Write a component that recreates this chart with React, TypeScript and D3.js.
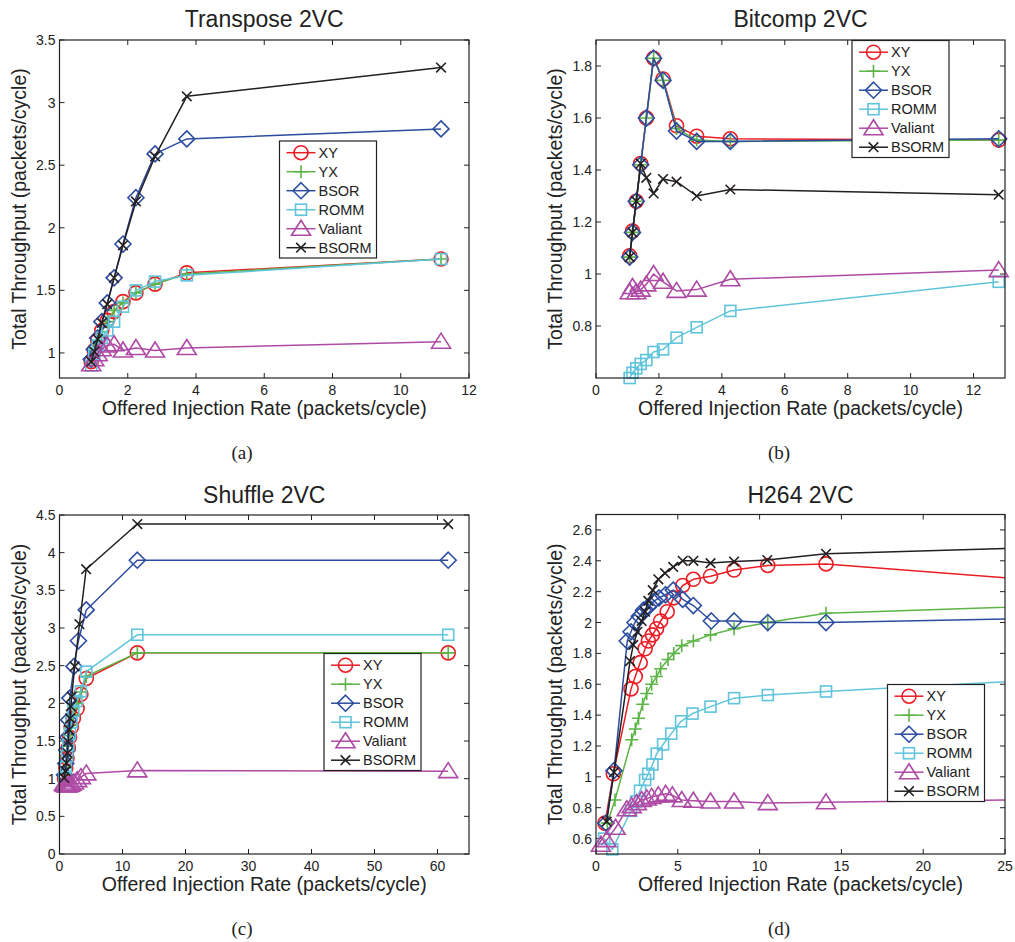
import React from 'react';
import * as d3 from 'd3';

const seriesNames = ['XY', 'YX', 'BSOR', 'ROMM', 'Valiant', 'BSORM'];
const seriesColors = ['#ec1c24', '#5db446', '#2c4d9f', '#5fc4dc', '#ae4aa5', '#231f20'];
const seriesMarkers = ['circle', 'plus', 'diamond', 'square', 'triangle', 'x'];

// (a) Transpose 2VC, one rate list shared by all routings
const transposeRate = [0.93, 1.02, 1.12, 1.24, 1.40, 1.60, 1.86, 2.24, 2.80, 3.73, 11.18];
const transposeXY = [0.93, 1.02, 1.10, 1.18, 1.26, 1.33, 1.41, 1.48, 1.55, 1.64, 1.75];
const transposeYX = [0.93, 1.02, 1.09, 1.17, 1.25, 1.34, 1.40, 1.48, 1.55, 1.63, 1.75];
const transposeBSOR = [0.95, 1.03, 1.12, 1.25, 1.40, 1.60, 1.87, 2.24, 2.59, 2.71, 2.79];
const transposeROMM = [0.90, 0.99, 1.06, 1.12, 1.18, 1.25, 1.37, 1.50, 1.57, 1.62, 1.75];
const transposeValiant = [0.91, 0.95, 0.99, 1.03, 1.06, 1.07, 1.02, 1.04, 1.02, 1.04, 1.09];
const transposeBSORM = [0.93, 1.01, 1.11, 1.24, 1.39, 1.60, 1.86, 2.21, 2.57, 3.05, 3.28];

// (b) Bitcomp 2VC
const bitcompRate = [1.07, 1.16, 1.28, 1.42, 1.60, 1.83, 2.13, 2.56, 3.20, 4.27, 12.8];
const bitcompXY = [1.07, 1.165, 1.28, 1.425, 1.60, 1.83, 1.75, 1.57, 1.53, 1.52, 1.515];
const bitcompYX = [1.065, 1.16, 1.28, 1.42, 1.60, 1.83, 1.745, 1.56, 1.515, 1.51, 1.515];
const bitcompBSOR = [1.065, 1.16, 1.28, 1.42, 1.60, 1.83, 1.745, 1.55, 1.51, 1.51, 1.52];
const bitcompROMM = [0.60, 0.62, 0.637, 0.654, 0.669, 0.70, 0.71, 0.755, 0.795, 0.858, 0.97];
const bitcompValiant = [0.93, 0.95, 0.93, 0.94, 0.96, 1.0, 0.97, 0.935, 0.94, 0.98, 1.015];
const bitcompBSORM = [1.065, 1.16, 1.28, 1.425, 1.37, 1.31, 1.365, 1.355, 1.30, 1.325, 1.305];

// (c) Shuffle 2VC, each routing has its own rates
const shuffleRateXY = [0.8, 1.0, 1.2, 1.4, 1.6, 1.85, 2.2, 2.8, 3.4, 4.25, 12.35, 61.7];
const shuffleXY = [1.0, 1.14, 1.27, 1.41, 1.55, 1.68, 1.8, 1.93, 2.12, 2.33, 2.67, 2.67];
const shuffleRateYX = [0.8, 1.0, 1.2, 1.4, 1.6, 1.85, 2.2, 2.8, 3.4, 4.25, 12.35, 61.7];
const shuffleYX = [1.0, 1.15, 1.29, 1.43, 1.57, 1.71, 1.85, 2.0, 2.15, 2.36, 2.67, 2.67];
const shuffleRateBSOR = [0.8, 1.0, 1.15, 1.3, 1.45, 1.64, 2.3, 3.0, 4.25, 12.35, 61.7];
const shuffleBSOR = [1.05, 1.2, 1.38, 1.55, 1.78, 2.07, 2.49, 2.83, 3.24, 3.90, 3.90];
const shuffleRateROMM = [0.8, 1.0, 1.2, 1.4, 1.65, 1.9, 2.2, 2.7, 3.4, 4.25, 12.35, 61.7];
const shuffleROMM = [1.02, 1.15, 1.3, 1.45, 1.6, 1.75, 1.9, 2.03, 2.16, 2.42, 2.91, 2.91];
const shuffleRateValiant = [0.7, 0.9, 1.1, 1.35, 1.6, 1.9, 2.3, 2.8, 3.4, 4.25, 12.35, 61.7];
const shuffleValiant = [0.93, 0.92, 0.91, 0.91, 0.92, 0.93, 0.95, 0.98, 1.02, 1.07, 1.11, 1.10];
const shuffleRateBSORM = [0.74, 0.95, 1.1, 1.27, 1.38, 1.54, 1.69, 1.8, 1.95, 2.4, 3.17, 4.23, 12.35, 61.7];
const shuffleBSORM = [1.01, 1.10, 1.21, 1.34, 1.49, 1.65, 1.80, 1.96, 2.09, 2.49, 3.05, 3.78, 4.38, 4.38];

// (d) H264 2VC (last point lies past the axis limit)
const h264RateXY = [0.55, 1.06, 2.14, 2.4, 2.7, 3.0, 3.2, 3.45, 3.7, 3.95, 4.35, 4.75, 5.3, 5.95, 7.0, 8.44, 10.5, 14.06, 28];
const h264XY = [0.70, 1.02, 1.57, 1.65, 1.74, 1.83, 1.88, 1.92, 1.96, 2.01, 2.07, 2.16, 2.24, 2.28, 2.30, 2.34, 2.37, 2.38, 2.265];
const h264RateYX = [0.69, 1.16, 2.18, 2.4, 2.6, 2.85, 3.1, 3.4, 3.7, 3.95, 4.4, 4.75, 5.24, 5.95, 7.0, 8.44, 10.5, 14.06, 28];
const h264YX = [0.70, 0.85, 1.24, 1.31, 1.38, 1.47, 1.54, 1.60, 1.65, 1.70, 1.76, 1.80, 1.85, 1.88, 1.92, 1.96, 2.00, 2.06, 2.11];
const h264RateBSOR = [0.61, 1.1, 1.91, 2.14, 2.38, 2.65, 2.9, 3.2, 3.5, 3.85, 4.25, 4.72, 5.3, 5.95, 7.05, 8.44, 10.5, 14.06, 28];
const h264BSOR = [0.70, 1.04, 1.88, 1.94, 2.0, 2.04, 2.08, 2.10, 2.135, 2.16, 2.18, 2.21, 2.15, 2.11, 2.01, 2.01, 2.0, 2.0, 2.03];
const h264RateROMM = [0.5, 1.0, 2.14, 2.45, 2.69, 3.0, 3.2, 3.45, 3.71, 4.1, 4.6, 5.2, 5.9, 7.0, 8.44, 10.5, 14.06, 28];
const h264ROMM = [0.60, 0.53, 0.78, 0.84, 0.91, 0.98, 1.02, 1.08, 1.15, 1.21, 1.28, 1.36, 1.41, 1.455, 1.51, 1.53, 1.553, 1.634];
const h264RateValiant = [0.3, 0.65, 1.2, 1.88, 2.18, 2.49, 2.79, 3.1, 3.4, 3.81, 4.26, 4.67, 5.24, 5.95, 7.0, 8.44, 10.5, 14.06, 28];
const h264Valiant = [0.56, 0.59, 0.67, 0.79, 0.81, 0.83, 0.85, 0.86, 0.87, 0.88, 0.89, 0.88, 0.85, 0.845, 0.84, 0.84, 0.83, 0.835, 0.855];
const h264RateBSORM = [0.65, 1.1, 2.08, 2.28, 2.53, 2.79, 3.0, 3.2, 3.47, 3.81, 4.22, 4.72, 5.3, 5.95, 7.0, 8.44, 10.47, 14.06, 28];
const h264BSORM = [0.71, 1.03, 1.75, 1.855, 1.94, 2.01, 2.07, 2.14, 2.21, 2.28, 2.32, 2.36, 2.40, 2.40, 2.385, 2.395, 2.405, 2.445, 2.49];

const ticksA = { x: [0, 2, 4, 6, 8, 10, 12], y: [1, 1.5, 2, 2.5, 3, 3.5] };
const ticksB = { x: [0, 2, 4, 6, 8, 10, 12], y: [0.8, 1, 1.2, 1.4, 1.6, 1.8] };
const ticksC = { x: [0, 10, 20, 30, 40, 50, 60], y: [0, 0.5, 1, 1.5, 2, 2.5, 3, 3.5, 4, 4.5] };
const ticksD = { x: [0, 5, 10, 15, 20, 25], y: [0.6, 0.8, 1, 1.2, 1.4, 1.6, 1.8, 2, 2.2, 2.4, 2.6] };

const zip = (xs: number[], ys: number[]) => ys.map((v, i) => [xs[i], v] as [number, number]);

const panels = [
  {
    id: 'a', title: 'Transpose 2VC', caption: '(a)',
    box: [59.5, 40, 469, 378], xDomain: [0, 12], yDomain: [0.8, 3.5], ticks: ticksA,
    legend: [279.5, 141], capX: 242, capY: 459, titleY: 27,
    series: [transposeXY, transposeYX, transposeBSOR, transposeROMM, transposeValiant, transposeBSORM].map(s => zip(transposeRate, s)),
  },
  {
    id: 'b', title: 'Bitcomp 2VC', caption: '(b)',
    box: [596, 40, 1005, 378], xDomain: [0, 13], yDomain: [0.6, 1.9], ticks: ticksB,
    legend: [852, 40.5], capX: 779, capY: 459, titleY: 27,
    series: [bitcompXY, bitcompYX, bitcompBSOR, bitcompROMM, bitcompValiant, bitcompBSORM].map(s => zip(bitcompRate, s)),
  },
  {
    id: 'c', title: 'Shuffle 2VC', caption: '(c)',
    box: [59.5, 515, 469, 854], xDomain: [0, 65], yDomain: [0, 4.5], ticks: ticksC,
    legend: [324, 653.5], capX: 242, capY: 935, titleY: 503,
    series: [
      zip(shuffleRateXY, shuffleXY), zip(shuffleRateYX, shuffleYX), zip(shuffleRateBSOR, shuffleBSOR),
      zip(shuffleRateROMM, shuffleROMM), zip(shuffleRateValiant, shuffleValiant), zip(shuffleRateBSORM, shuffleBSORM),
    ],
  },
  {
    id: 'd', title: 'H264 2VC', caption: '(d)',
    box: [596, 514.5, 1005, 854], xDomain: [0, 25], yDomain: [0.5, 2.7], ticks: ticksD,
    legend: [887.5, 684.5], capX: 779, capY: 935, titleY: 503,
    series: [
      zip(h264RateXY, h264XY), zip(h264RateYX, h264YX), zip(h264RateBSOR, h264BSOR),
      zip(h264RateROMM, h264ROMM), zip(h264RateValiant, h264Valiant), zip(h264RateBSORM, h264BSORM),
    ],
  },
];

const sans = '"Liberation Sans", Arial, Helvetica, sans-serif';

function Marker({ kind, x, y, color }: { kind: string; x: number; y: number; color: string }) {
  const sw = 1.6;
  const common = { fill: 'none', stroke: color, strokeWidth: sw };
  switch (kind) {
    case 'circle':
      return <circle cx={x} cy={y} r={7} {...common} />;
    case 'plus':
      return <path d={`M${x - 6.5},${y}H${x + 6.5}M${x},${y - 6.5}V${y + 6.5}`} {...common} />;
    case 'diamond':
      return <path d={`M${x},${y - 8}L${x + 8},${y}L${x},${y + 8}L${x - 8},${y}Z`} {...common} />;
    case 'square':
      return <rect x={x - 5.5} y={y - 5.5} width={11} height={11} {...common} />;
    case 'triangle':
      return <path d={`M${x},${y - 8.5}L${x + 9.5},${y + 6.5}L${x - 9.5},${y + 6.5}Z`} {...common} />;
    default:
      return <path d={`M${x - 4.8},${y - 4.8}L${x + 4.8},${y + 4.8}M${x - 4.8},${y + 4.8}L${x + 4.8},${y - 4.8}`} {...common} />;
  }
}

const fmt = (v: number) => String(+v.toFixed(2));

function Panel({ p }: { p: typeof panels[number] }) {
  const [l, t, r, b] = p.box;
  const x = d3.scaleLinear().domain(p.xDomain).range([l, r]);
  const y = d3.scaleLinear().domain(p.yDomain).range([b, t]);
  const line = d3.line<[number, number]>().x(d => x(d[0])).y(d => y(d[1]));
  const tk = 5;
  const cx = (l + r) / 2;
  const cy = (t + b) / 2;
  const [lx, ly] = p.legend;
  return (
    <g>
      <defs>
        <clipPath id={`clip-${p.id}`}>
          <rect x={l} y={t - 2} width={r - l} height={b - t + 4} />
        </clipPath>
      </defs>
      <rect x={l} y={t} width={r - l} height={b - t} fill="#fff" />
      <text x={cx} y={p.titleY} textAnchor="middle" fontSize={23} fontFamily={sans} fill="#222">{p.title}</text>
      {p.ticks.x.map(v => (
        <g key={'x' + v}>
          <line x1={x(v)} x2={x(v)} y1={b} y2={b - tk} stroke="#222" />
          <line x1={x(v)} x2={x(v)} y1={t} y2={t + tk} stroke="#222" />
          <text x={x(v)} y={b + 16.5} textAnchor="middle" fontSize={14} fontFamily={sans} fill="#222">{fmt(v)}</text>
        </g>
      ))}
      {p.ticks.y.map(v => (
        <g key={'y' + v}>
          <line x1={l} x2={l + tk} y1={y(v)} y2={y(v)} stroke="#222" />
          <line x1={r} x2={r - tk} y1={y(v)} y2={y(v)} stroke="#222" />
          <text x={l - 4} y={y(v) + 5} textAnchor="end" fontSize={14} fontFamily={sans} fill="#222">{fmt(v)}</text>
        </g>
      ))}
      <text x={cx} y={b + 36.5} textAnchor="middle" fontSize={19.5} fontFamily={sans} fill="#222">
        Offered Injection Rate (packets/cycle)
      </text>
      <text transform={`translate(${l - 34},${cy}) rotate(-90)`} textAnchor="middle" fontSize={19.5} fontFamily={sans} fill="#222">
        Total Throughput (packets/cycle)
      </text>
      {p.series.map((s, i) => (
        <g key={'s' + i}>
          <path d={line(s) || ''} fill="none" stroke={seriesColors[i]} strokeWidth={1.5}
            strokeLinejoin="round" clipPath={`url(#clip-${p.id})`} />
          {s.filter(d => d[0] <= p.xDomain[1]).map((d, j) => (
            <Marker key={j} kind={seriesMarkers[i]} x={x(d[0])} y={y(d[1])} color={seriesColors[i]} />
          ))}
        </g>
      ))}
      <rect x={l} y={t} width={r - l} height={b - t} fill="none" stroke="#222" strokeWidth={1.2} />
      <g>
        <rect x={lx} y={ly} width={97} height={117} fill="#fff" stroke="#222" strokeWidth={1.2} />
        {seriesNames.map((n, i) => {
          const ry = ly + 11.7 + i * 19;
          return (
            <g key={n}>
              <line x1={lx + 7} x2={lx + 36} y1={ry} y2={ry} stroke={seriesColors[i]} strokeWidth={1.5} />
              <Marker kind={seriesMarkers[i]} x={lx + 21.5} y={ry} color={seriesColors[i]} />
              <text x={lx + 39} y={ry + 5.2} fontSize={14.5} fontFamily={sans} fill="#222">{n}</text>
            </g>
          );
        })}
      </g>
      <text x={p.capX} y={p.capY} textAnchor="middle" fontSize={19} fontFamily='"Liberation Serif", "Times New Roman", serif' fill="#222">
        {p.caption}
      </text>
    </g>
  );
}

export default function App() {
  return (
    <svg width={1015} height={942} style={{ position: 'absolute', left: 0, top: 0, background: '#fff' }}>
      <rect width={1015} height={942} fill="#fff" />
      {panels.map(p => <Panel key={p.id} p={p} />)}
    </svg>
  );
}
